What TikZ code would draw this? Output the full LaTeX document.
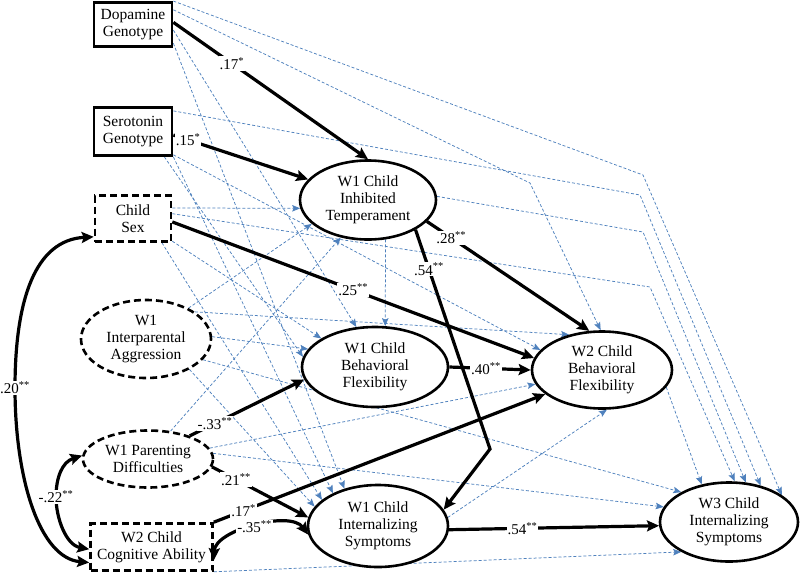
\documentclass[tikz,border=0pt]{standalone}
\usepackage{fontspec}
\setmainfont{Liberation Serif}
\usetikzlibrary{arrows.meta,shapes.geometric,calc}
\pgfdeclarelayer{bg}
\pgfsetlayers{bg,main}
\definecolor{dblue}{RGB}{79,129,189}
\begin{document}
\begin{tikzpicture}[x=1pt,y=-1pt,
  txt/.style={font=\fontsize{15.5}{17.2}\selectfont, align=center, text=black, inner sep=0pt, fill=white},
  obsbox/.style={txt, draw, rectangle, line width=2.8pt},
  ctlbox/.style={txt, draw, rectangle, line width=2.6pt, dash pattern=on 7pt off 4pt},
  latell/.style={txt, draw, ellipse, line width=2.6pt},
  ctlell/.style={txt, draw, ellipse, line width=2.6pt, dash pattern=on 7pt off 4pt},
  dsh/.style={draw=dblue, line width=0.75pt, dash pattern=on 3pt off 2pt, -{Stealth[length=8pt,width=6.5pt,inset=1.5pt,fill=dblue]}},
  sol/.style={line width=3.2pt, -{Stealth[length=12pt,width=11pt,inset=2pt]}},
  dbl/.style={line width=3.2pt, {Stealth[length=12pt,width=11pt,inset=2pt]}-{Stealth[length=12pt,width=11pt,inset=2pt]}},
  lab/.style={font=\fontsize{15}{15}\selectfont, fill=white, inner sep=1pt, text=black}
]
\useasboundingbox (0,0) rectangle (800,573);

% nodes
\node[obsbox, minimum width=78pt, minimum height=44pt] (D) at (133,24.5) {Dopamine\\Genotype};
\node[obsbox, minimum width=78pt, minimum height=48pt] (S) at (133,131.5) {Serotonin\\Genotype};
\node[ctlbox, minimum width=76pt, minimum height=46pt] (X) at (133,218.5) {Child\\Sex};
\node[ctlell, minimum width=130pt, minimum height=78pt] (A) at (146,339) {W1\\Interparental\\Aggression};
\node[ctlell, minimum width=130pt, minimum height=57pt] (P) at (148,459) {W1 Parenting\\Difficulties};
\node[ctlbox, minimum width=122pt, minimum height=47pt] (C) at (151.5,547) {W2 Child\\Cognitive Ability};
\node[latell, minimum width=136pt, minimum height=79pt] (IT) at (368,200) {W1 Child\\Inhibited\\Temperament};
\node[latell, minimum width=146pt, minimum height=80pt] (BF1) at (375,367) {W1 Child\\Behavioral\\Flexibility};
\node[latell, minimum width=140pt, minimum height=77pt] (BF2) at (602,370) {W2 Child\\Behavioral\\Flexibility};
\node[latell, minimum width=140pt, minimum height=82pt] (IN1) at (378,526) {W1 Child\\Internalizing\\Symptoms};
\node[latell, minimum width=138pt, minimum height=79pt] (IN3) at (729,522) {W3 Child\\Internalizing\\Symptoms};

\coordinate (b1) at (643,175);
\coordinate (b2) at (530,183);
\coordinate (b3) at (640,195);
\coordinate (b4) at (643,232);
\coordinate (b5) at (650,287);
\coordinate (k1) at (490,449);

% dashed control paths
\begin{pgfonlayer}{bg}
\draw[dsh] (D.north east) -- (b1) -- (IN3.27);
\draw[dsh] (D.20) -- (b2) -- (BF2.92);
\draw[dsh] (D.-8) -- (BF1.115);
\draw[dsh] (D.-25) -- (IN1.132);
\draw[dsh] (S.27) -- (b3) -- (IN3.49);
\draw[dsh] (S.-30) -- (BF2.162);
\draw[dsh] (S.-39) -- (BF1.172);
\draw[dsh] (S.south east) -- (IN1.144);
\draw[dsh] (X.15) -- (IT.187);
\draw[dsh] (X.7) -- (b5) -- (IN3.82);
\draw[dsh] (X.-30) -- (BF1.152);
\draw[dsh] (X.-40) -- (IN1.155);
\draw[dsh] (A.36) -- (IT.203);
\draw[dsh] (A.29) -- (BF2.133);
\draw[dsh] (A.2) -- (BF1.165);
\draw[dsh] (A.-20) -- (IN3.148);
\draw[dsh] (A.-35) -- (IN1.163);
\draw[dsh] (P.51) -- (IT.234);
\draw[dsh] (P.10) -- (BF2.192);
\draw[dsh] (P.5) -- (IN3.167);
\draw[dsh] (C.south east) -- (IN3.212);
\draw[dsh] (IT.3) -- (b4) -- (IN3.67);
\draw[dsh] (IT.-66) -- (BF1.76);
\draw[dsh] (BF2.-15) -- (IN3.126);
\draw[dsh] (IN1.7) -- (BF2.-83);
\end{pgfonlayer}

% significant paths
\draw[sol] (D.3) -- node[lab,pos=0.3]{.17\textsuperscript{*}} (IT.north);
\draw[sol] (S.-5) -- node[lab,pos=0.11]{.15\textsuperscript{*}} (IT.161);
\draw[sol] (X.-5) -- node[lab,pos=0.5]{.25\textsuperscript{**}} (BF2.170);
\draw[sol] (IT.-20) -- node[lab,pos=0.15]{.28\textsuperscript{**}} (BF2.108);
\draw[sol] (IT.-32) -- node[lab,pos=0.18]{.54\textsuperscript{**}} (k1) -- (IN1.14);
\draw[sol] (BF1.east) -- node[lab,pos=0.45]{.40\textsuperscript{**}} (BF2.west);
\draw[sol] (P.29) -- node[lab,pos=0.22]{-.33\textsuperscript{**}} (BF1.190);
\draw[sol] (P.-7) -- node[lab,pos=0.25]{.21\textsuperscript{**}} (IN1.173);
\draw[sol] (C.north east) -- node[lab,pos=0.09]{.17\textsuperscript{*}} (BF2.203);
\draw[sol] (IN1.-3) -- node[lab,pos=0.35]{.54\textsuperscript{**}} (IN3.-177);

% covariances
\draw[dbl] (X.205) .. controls (35,240) and (15,300) .. (15,388) node[lab]{.20\textsuperscript{**}} .. controls (15,480) and (40,558) .. (C.194);
\draw[dbl] (P.177) .. controls (62,462) and (56,478) .. (56,497) node[lab]{-.22\textsuperscript{**}} .. controls (56,518) and (66,545) .. (C.182);
\draw[dbl] (C.-12) .. controls (215,530) and (290,510) .. node[lab,pos=0.5]{-.35\textsuperscript{**}} (IN1.187);
\end{tikzpicture}
\end{document}
